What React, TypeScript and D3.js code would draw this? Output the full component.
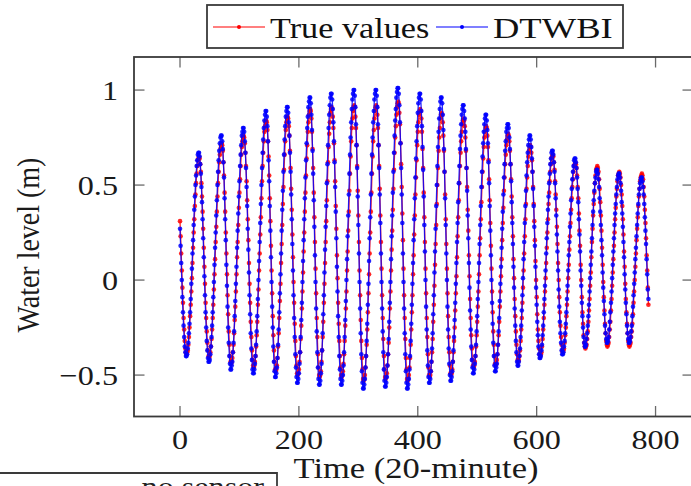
import React from 'react';
import * as d3 from 'd3';

// Water level (cm) sampled every 20 minutes, index = time step
const trueValuesCm: number[] = [
  31,23,14,5,-4,-12,-20,-26,-32,-36,-38,-39,
  -38,-37,-34,-30,-25,-19,-13,-6,1,9,17,25,32,39,45,51,56,60,63,64,65,
  64,61,57,51,44,36,27,17,7,-2,-12,-20,-27,-33,-37,-40,-41,
  -40,-38,-35,-31,-26,-20,-13,-5,3,11,20,28,36,44,51,57,62,66,69,71,72,
  71,68,62,55,46,36,25,14,3,-8,-18,-27,-34,-40,-43,-44,
  -43,-41,-38,-34,-28,-21,-14,-6,3,12,20,29,38,46,53,60,66,70,73,75,76,
  75,72,67,60,52,42,32,21,9,-2,-12,-22,-30,-37,-42,-45,-46,
  -45,-43,-40,-35,-29,-22,-13,-5,5,14,24,33,43,52,60,67,73,78,81,83,84,
  83,79,73,65,55,43,31,18,5,-7,-19,-29,-37,-43,-47,-48,
  -47,-45,-41,-35,-28,-20,-11,-2,9,19,29,40,49,58,66,73,79,83,85,86,
  85,81,76,68,59,48,37,24,12,-1,-12,-23,-32,-40,-45,-49,-50,
  -49,-47,-43,-38,-31,-24,-15,-6,4,15,25,36,46,55,64,71,78,83,87,89,90,
  89,85,78,69,59,46,33,20,6,-7,-20,-30,-39,-46,-50,-51,
  -50,-48,-43,-37,-30,-22,-12,-2,9,20,31,42,52,62,70,77,83,88,90,91,
  90,86,80,72,63,52,39,27,13,1,-12,-23,-32,-40,-46,-50,-51,
  -50,-48,-44,-39,-32,-24,-15,-6,5,15,26,36,47,56,65,73,80,85,89,91,92,
  91,86,80,71,60,47,34,20,5,-8,-21,-32,-41,-47,-52,-53,
  -52,-50,-46,-40,-34,-26,-17,-7,3,14,25,36,46,56,65,73,79,85,89,91,92,
  91,87,80,71,60,48,34,20,6,-8,-20,-31,-40,-47,-51,-52,
  -51,-49,-45,-39,-33,-25,-15,-6,5,16,26,37,48,58,67,75,81,87,91,93,94,
  93,88,82,72,61,49,35,21,6,-8,-20,-31,-41,-47,-52,-53,
  -52,-50,-46,-41,-34,-26,-17,-8,3,13,24,34,45,54,63,71,78,83,87,89,90,
  89,85,78,69,59,46,33,20,6,-7,-20,-30,-39,-46,-50,-51,
  -50,-48,-43,-38,-31,-22,-13,-3,8,19,29,40,50,59,68,75,80,85,87,88,
  87,83,76,68,57,45,32,19,6,-7,-19,-30,-38,-45,-49,-50,
  -49,-47,-43,-38,-32,-25,-16,-7,2,12,23,33,42,51,60,67,73,78,82,84,85,
  84,81,75,68,59,49,37,26,13,2,-10,-20,-29,-36,-42,-45,-46,
  -45,-43,-40,-35,-29,-22,-14,-6,3,13,22,32,41,49,57,64,70,75,78,80,81,
  80,76,70,63,53,42,30,18,6,-6,-17,-27,-34,-40,-44,-45,
  -44,-42,-39,-34,-29,-22,-14,-6,2,11,21,30,38,47,54,61,66,71,74,76,77,
  76,73,68,61,53,44,33,23,11,1,-10,-19,-27,-34,-39,-42,-43,
  -42,-40,-37,-32,-26,-20,-12,-4,5,14,23,32,40,48,54,60,65,68,70,71,
  70,67,63,57,49,40,31,21,10,0,-9,-18,-26,-32,-36,-39,-40,
  -39,-38,-35,-31,-26,-20,-13,-6,1,9,17,25,32,40,46,52,57,61,64,65,66,
  65,62,58,52,45,37,28,19,9,0,-9,-17,-24,-30,-34,-37,-38,
  -37,-36,-33,-29,-25,-19,-13,-6,1,8,16,23,30,37,43,49,53,57,60,61,62,
  61,59,55,49,43,35,26,18,8,0,-9,-17,-23,-29,-33,-35,-36,
  -35,-34,-31,-27,-22,-16,-10,-3,4,12,20,27,34,40,46,51,55,58,59,60,
  59,57,53,48,41,34,26,17,8,-1,-9,-16,-23,-28,-32,-34,-35,
  -34,-33,-30,-26,-22,-16,-10,-3,4,11,18,25,32,38,44,48,52,55,56,57,
  56,54,50,45,39,32,24,15,7,-2,-10,-17,-23,-28,-32,-34,-35,
  -34,-33,-30,-27,-23,-18,-12,-6,0,7,14,21,27,33,39,44,48,52,54,55,56,
  55,53,49,44,37,30,22,13,5,-4,-13,
];

const dtwbiCm: number[] = [
  27,18,9,0,-9,-17,-24,-30,-35,-38,-40,
  -40,-39,-36,-33,-28,-23,-17,-10,-2,6,14,21,29,37,44,50,55,60,63,66,67,
  67,65,61,56,49,41,32,22,12,2,-8,-17,-25,-32,-37,-41,-43,
  -43,-42,-39,-35,-30,-24,-17,-9,-1,8,17,25,34,42,50,57,63,68,72,75,76,
  76,73,69,62,54,43,32,21,8,-3,-14,-25,-33,-40,-44,-47,
  -47,-45,-43,-38,-33,-27,-19,-11,-2,7,17,26,35,44,52,60,66,71,76,78,80,
  80,78,73,67,59,49,39,27,16,4,-8,-18,-28,-36,-42,-47,-49,
  -49,-47,-44,-40,-34,-27,-19,-10,0,10,20,30,40,50,59,67,74,80,84,87,89,
  89,86,81,73,63,52,39,26,12,-1,-14,-25,-35,-43,-48,-51,
  -51,-49,-46,-41,-34,-26,-17,-7,3,14,26,37,47,57,66,74,81,86,89,91,
  91,88,83,76,67,57,45,32,19,5,-8,-20,-30,-39,-46,-51,-54,
  -54,-52,-49,-44,-38,-30,-21,-12,-1,10,21,32,43,54,63,72,80,86,91,94,96,
  96,93,87,79,68,56,42,28,13,-1,-15,-27,-38,-46,-52,-55,
  -55,-53,-49,-44,-37,-28,-18,-8,4,16,28,39,51,61,71,80,87,92,96,98,
  98,95,90,83,73,62,49,36,22,7,-6,-19,-30,-40,-47,-52,-55,
  -55,-53,-50,-45,-38,-30,-21,-11,0,11,23,34,45,56,66,75,83,90,95,98,100,
  100,97,91,82,71,59,44,29,14,-1,-15,-28,-39,-48,-54,-57,
  -57,-55,-52,-46,-40,-32,-23,-13,-2,10,22,33,45,56,66,75,83,89,95,98,100,
  100,97,91,82,71,59,45,30,14,-1,-15,-27,-38,-47,-53,-56,
  -56,-54,-51,-45,-39,-31,-22,-12,-1,11,23,34,46,57,67,76,84,90,96,99,101,
  101,98,92,83,72,59,45,30,14,-1,-15,-28,-39,-48,-54,-57,
  -57,-55,-52,-47,-40,-32,-23,-13,-2,9,21,32,43,54,64,73,81,88,93,96,98,
  98,95,89,81,70,58,44,29,15,0,-14,-26,-37,-45,-51,-54,
  -54,-52,-48,-43,-36,-28,-18,-8,4,15,27,39,50,60,70,78,85,90,94,96,
  96,93,87,79,69,57,43,29,14,0,-14,-26,-36,-44,-50,-53,
  -53,-51,-48,-43,-37,-30,-21,-12,-2,9,20,30,41,51,60,69,76,82,87,90,92,
  92,89,85,78,69,59,47,34,22,9,-4,-16,-26,-35,-42,-46,-49,
  -49,-47,-44,-40,-34,-27,-19,-10,-1,9,19,29,39,49,57,65,72,78,82,85,87,
  87,84,79,72,62,51,39,26,13,0,-12,-23,-33,-40,-45,-48,
  -48,-46,-44,-39,-34,-27,-20,-11,-2,7,17,27,36,45,54,61,68,73,78,80,82,
  82,80,75,69,61,52,41,30,19,7,-4,-15,-24,-32,-38,-43,-45,
  -45,-43,-40,-36,-30,-24,-16,-8,1,11,20,30,39,47,55,62,67,71,74,76,
  76,74,70,64,57,48,39,28,18,7,-4,-13,-22,-29,-35,-39,-41,
  -41,-40,-37,-34,-29,-24,-17,-10,-3,5,14,22,30,37,44,51,56,61,64,67,68,
  68,66,62,57,51,43,34,24,15,5,-5,-14,-22,-28,-33,-37,-39,
  -39,-38,-35,-32,-28,-23,-17,-10,-3,5,13,20,28,35,42,48,53,57,60,63,64,
  64,62,59,54,48,41,32,24,15,5,-3,-12,-19,-25,-30,-33,-35,
  -35,-34,-31,-28,-24,-19,-13,-6,1,8,15,22,29,36,42,47,51,54,57,58,
  58,56,53,49,43,36,29,21,13,4,-4,-11,-18,-24,-28,-31,-33,
  -33,-32,-30,-26,-22,-17,-12,-6,1,8,15,22,29,35,40,45,49,53,55,56,
  56,54,51,47,41,35,28,20,12,3,-5,-12,-18,-24,-28,-31,-33,
  -33,-32,-30,-27,-24,-19,-14,-8,-2,4,11,17,23,29,35,40,45,48,51,53,54,
  54,52,49,45,40,33,26,19,11,3,-5,-10,
];

const seriesNames = ['True values', 'DTWBI'];
const seriesColors = ['#ff0000', '#0000ff'];
const xTicks = [0, 200, 400, 600, 800];
const yTicks = [-0.5, 0, 0.5, 1];
const xLabel = 'Time (20-minute)';
const yLabel = 'Water level (m)';
const noteLabel = 'no sensor';

const FONT = "'Liberation Serif', 'Times New Roman', serif";

export default function App() {
  const W = 691, H = 486;
  const left = 134, right = 693, top = 57, bottom = 416.5;
  const x = d3.scaleLinear().domain([-77.4, 863]).range([left, right]);
  const y = d3.scaleLinear().domain([-0.718, 1.174]).range([bottom, top]);
  const series = [trueValuesCm, dtwbiCm].map((arr) => arr.map((v, i) => ({ t: i, v: v / 100 })));
  const line = d3.line<{ t: number; v: number }>().x((d) => x(d.t)).y((d) => y(d.v));
  const tickLen = 10.5;
  const frame = '#3a3a3a';
  const tickCol = '#6a6a6a';

  return (
    <svg width={W} height={H} style={{ position: 'absolute', left: 0, top: 0, background: '#fff' }} fontFamily={FONT}>
      <rect x={0} y={0} width={W} height={H} fill="#fff" />
      {/* series */}
      {series.map((s, k) => (
        <g key={k}>
          <path d={line(s) || ''} fill="none" stroke={seriesColors[k]} strokeWidth={1.3} strokeOpacity={0.85} />
          {s.map((d) => (
            <circle key={d.t} cx={x(d.t)} cy={y(d.v)} r={2.3} fill={seriesColors[k]} fillOpacity={0.85} />
          ))}
        </g>
      ))}
      {/* ticks */}
      {xTicks.map((t) => (
        <g key={'xt' + t}>
          <line x1={x(t)} x2={x(t)} y1={bottom} y2={bottom - tickLen} stroke={tickCol} strokeWidth={1.3} />
          <line x1={x(t)} x2={x(t)} y1={top} y2={top + tickLen} stroke={tickCol} strokeWidth={1.3} />
          <text transform={`translate(${x(t)},${449}) scale(1.15,1)`} textAnchor="middle" fontSize={28} fill="#1a1a1a">
            {t}
          </text>
        </g>
      ))}
      {yTicks.map((t) => (
        <g key={'yt' + t}>
          <line x1={left} x2={left + tickLen} y1={y(t)} y2={y(t)} stroke={tickCol} strokeWidth={1.3} />
          <line x1={right} x2={right - tickLen} y1={y(t)} y2={y(t)} stroke={tickCol} strokeWidth={1.3} />
          <text transform={`translate(${118},${y(t) + 9.5}) scale(1.15,1)`} textAnchor="end" fontSize={28} fill="#1a1a1a">
            {t < 0 ? '\u2212' + Math.abs(t) : String(t)}
          </text>
        </g>
      ))}
      {/* frame */}
      <rect x={left} y={top} width={right - left} height={bottom - top} fill="none" stroke={frame} strokeWidth={1.8} />
      {/* axis titles */}
      <text transform={`translate(${416},${478}) scale(1.19,1)`} textAnchor="middle" fontSize={29} fill="#1a1a1a">
        {xLabel}
      </text>
      <text transform={`translate(${39},${245}) scale(1.15,1) rotate(-90)`} textAnchor="middle" fontSize={28} fill="#1a1a1a">
        {yLabel}
      </text>
      {/* legend */}
      <rect x={207} y={5} width={416} height={43} fill="#fff" stroke={frame} strokeWidth={1.8} />
      {[0, 1].map((k) => {
        const lx = k === 0 ? 213 : 436;
        return (
          <g key={'lg' + k}>
            <line x1={lx} x2={lx + 52} y1={27} y2={27} stroke={seriesColors[k]} strokeWidth={1.2} />
            <circle cx={lx + 26} cy={27} r={2} fill={seriesColors[k]} />
            <text transform={`translate(${lx + 57},${38}) scale(${k === 0 ? 1.18 : 1.26},1)`} fontSize={29} fill="#111">
              {seriesNames[k]}
            </text>
          </g>
        );
      })}
      {/* partially visible box bottom-left */}
      <path d={`M0,473 L277,473 L277,${H}`} fill="none" stroke={frame} strokeWidth={1.8} />
      <text transform={`translate(${264},${496}) scale(1.15,1)`} textAnchor="end" fontSize={28} fill="#222">
        {noteLabel}
      </text>
    </svg>
  );
}
